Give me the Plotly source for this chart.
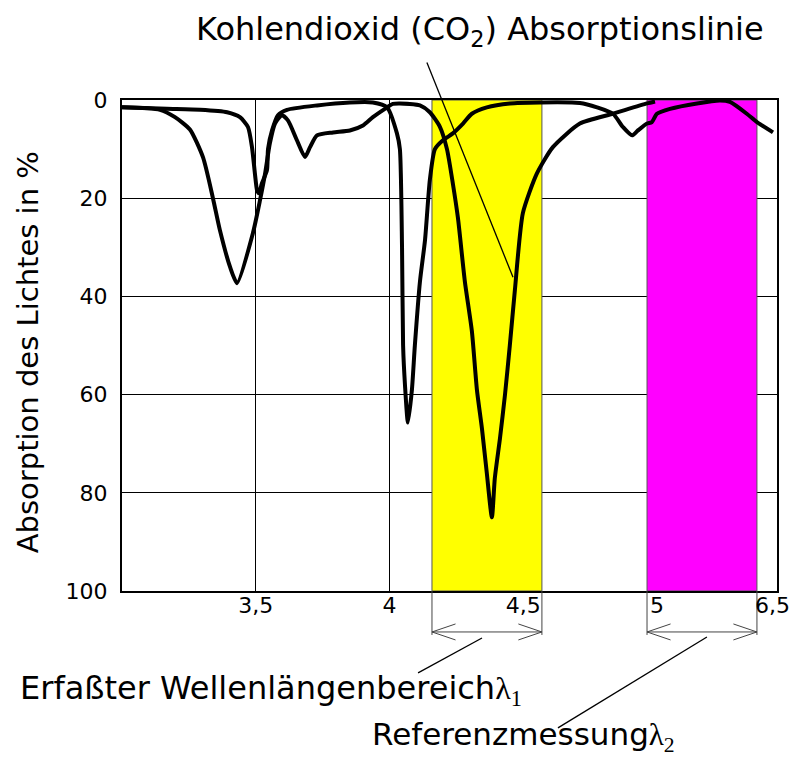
import plotly.graph_objects as go

# ---- data (wavelength in µm, absorption in %) ----
wavelength_a = [3.000, 3.142, 3.198, 3.254, 3.303, 3.340, 3.366, 3.404, 3.430, 3.490,
                3.516, 3.535, 3.553, 3.572, 3.598, 3.621, 3.654, 3.684, 3.703, 3.729,
                3.789, 3.852, 3.901, 3.938, 3.983, 4.013, 4.039, 4.114, 4.151, 4.189,
                4.215, 4.237, 4.256, 4.282, 4.308, 4.327, 4.346, 4.364, 4.383, 4.394,
                4.413, 4.432, 4.450, 4.469, 4.499, 4.551, 4.611, 4.712, 4.836, 4.963, 4.993]
absorption_a = [1.5, 2.0, 3.5, 6.0, 11.7, 20.0, 26.5, 34.0, 37.3, 27.0,
                20.4, 15.0, 8.8, 4.8, 3.1, 4.2, 8.2, 11.6, 9.6, 7.2,
                6.6, 6.2, 5.2, 3.5, 1.8, 0.8, 0.7, 1.1, 2.5, 5.5,
                10.0, 17.0, 24.0, 37.0, 47.0, 59.0, 67.0, 76.0, 85.0, 77.0,
                69.0, 60.0, 50.0, 38.7, 23.0, 15.0, 9.6, 4.8, 2.8, 0.7, 0.3]

wavelength_b = [3.000, 3.168, 3.292, 3.393, 3.441, 3.471, 3.486, 3.497, 3.505, 3.512,
                3.523, 3.542, 3.546, 3.561, 3.583, 3.617, 3.729, 3.852, 3.938, 3.991,
                4.028, 4.039, 4.047, 4.051, 4.058, 4.069, 4.084, 4.095, 4.114, 4.133,
                4.151, 4.170, 4.200, 4.237, 4.275, 4.308, 4.364, 4.450, 4.563, 4.712,
                4.776, 4.836, 4.873, 4.907, 4.929, 4.963, 4.981, 5.000, 5.049, 5.150,
                5.236, 5.273, 5.336, 5.374, 5.434]
absorption_b = [1.5, 1.8, 2.0, 2.5, 3.5, 5.5, 9.6, 15.0, 18.4, 19.0,
                17.0, 14.3, 10.0, 6.2, 3.1, 2.0, 1.1, 0.5, 0.5, 1.5,
                6.8, 10.0, 30.0, 50.0, 58.0, 65.7, 59.0, 50.0, 37.0, 28.5,
                16.3, 10.0, 8.2, 6.8, 4.8, 2.8, 1.5, 0.7, 0.5, 0.6,
                1.5, 2.8, 5.5, 7.2, 6.2, 4.8, 4.5, 2.8, 1.8, 0.7,
                0.1, 0.4, 2.8, 4.5, 6.6]

x_tick_vals = [3.5, 4.0, 4.5, 5.0, 5.449]
x_tick_text = ["3,5", "4", "4,5", "5", "6,5"]
y_tick_vals = [0, 20, 40, 60, 80, 100]
y_tick_text = ["0", "20", "40", "60", "80", "100"]

band_measure = [4.159, 4.570]     # Erfaßter Wellenlängenbereich λ1
band_reference = [4.963, 5.374]   # Referenzmessung λ2

X_RANGE = [3.0, 5.449]
Y_RANGE = [100, 0]

FONT = "DejaVu Sans"

fig = go.Figure()
for xs, ys in ((wavelength_a, absorption_a), (wavelength_b, absorption_b)):
    fig.add_trace(go.Scatter(x=xs, y=ys, mode="lines",
                             line=dict(color="black", width=4, shape="spline", smoothing=0.6),
                             hoverinfo="skip", showlegend=False))

shapes = []
for band, col in ((band_measure, "#FFFF00"), (band_reference, "#FF00FF")):
    shapes.append(dict(type="rect", xref="x", yref="y", x0=band[0], x1=band[1], y0=0, y1=100,
                       fillcolor=col, line=dict(color="#555555", width=1), layer="between"))


def ypix(py):
    # convert a page pixel row to paper coordinates (plot area rows 99.5..591)
    return (591 - py) / 491.5


def xpix(px):
    # convert a page pixel column to paper coordinates (plot area columns 122..777)
    return (px - 122) / 655


line_style = dict(color="black", width=1.3)
thin_style = dict(color="#444444", width=1)

# leader line from CO2 label to the CO2 absorption line
shapes.append(dict(type="line", xref="x", yref="paper", x0=4.140, y0=ypix(62), x1=4.462, y1=ypix(277),
                   line=line_style))

# dimension arrows beneath the bands
head_dx = 0.088
for band in (band_measure, band_reference):
    for xb in band:
        shapes.append(dict(type="line", xref="x", yref="paper", x0=xb, x1=xb, y0=0, y1=ypix(635),
                           line=thin_style))
    shapes.append(dict(type="line", xref="x", yref="paper", x0=band[0], x1=band[1],
                       y0=ypix(632), y1=ypix(632), line=thin_style))
    for tip, sgn in ((band[0], 1), (band[1], -1)):
        for dy in (-8, 8):
            shapes.append(dict(type="line", xref="x", yref="paper", x0=tip, y0=ypix(632),
                               x1=tip + sgn * head_dx, y1=ypix(632 + dy), line=thin_style))

# leader lines to the bottom labels
shapes.append(dict(type="line", xref="x", yref="paper", x0=4.346, y0=ypix(638), x1=4.107, y1=ypix(673),
                   line=line_style))
shapes.append(dict(type="line", xref="x", yref="paper", x0=5.187, y0=ypix(637), x1=4.630, y1=ypix(728),
                   line=line_style))

serif = "font-family:'Liberation Serif', 'DejaVu Serif', serif"
annotations = [
    dict(text="Kohlendioxid (CO<sub>2</sub>) Absorptionslinie", xref="paper", yref="paper",
         x=xpix(480), y=ypix(30), xanchor="center", yanchor="middle", showarrow=False,
         font=dict(family=FONT, size=32, color="black")),
    dict(text="Erfaßter Wellenlängenbereich<span style=\"" + serif + "\">λ<sub>1</sub></span>",
         xref="paper", yref="paper", x=xpix(18), y=ypix(690), xanchor="left", yanchor="middle",
         showarrow=False, font=dict(family=FONT, size=32, color="black")),
    dict(text="Referenzmessung<span style=\"" + serif + "\">λ<sub>2</sub></span>",
         xref="paper", yref="paper", x=xpix(370), y=ypix(737), xanchor="left", yanchor="middle",
         showarrow=False, font=dict(family=FONT, size=31, color="black")),
    dict(text="Absorption des Lichtes in %", xref="paper", yref="paper",
         x=xpix(28), y=ypix(352), xanchor="center", yanchor="middle", textangle=-90,
         showarrow=False, font=dict(family=FONT, size=29, color="black")),
    # last x tick label sits on the right border; drawn here so it is not hidden past the page edge
    dict(text=x_tick_text[-1], xref="x", yref="paper", x=x_tick_vals[-1], y=ypix(606),
         xanchor="center", yanchor="middle", xshift=-5, showarrow=False,
         font=dict(family=FONT, size=22, color="black")),
]

# The page body adds an 8 px border; the figure is sized so the page is exactly 800x767.
fig.update_layout(
    width=784, height=751,
    margin=dict(l=114, r=15, t=92, b=168),
    paper_bgcolor="white", plot_bgcolor="white",
    shapes=shapes, annotations=annotations,
    xaxis=dict(range=X_RANGE, tickvals=x_tick_vals[:-1], ticktext=x_tick_text[:-1],
               showgrid=True, gridcolor="black", gridwidth=1, zeroline=False,
               showline=True, linecolor="black", linewidth=2, mirror=True,
               ticks="", ticklabelstandoff=-6,
               tickfont=dict(family=FONT, size=22, color="black")),
    yaxis=dict(range=Y_RANGE, tickvals=y_tick_vals, ticktext=y_tick_text,
               showgrid=True, gridcolor="black", gridwidth=1, zeroline=False,
               showline=True, linecolor="black", linewidth=2, mirror=True,
               ticks="", ticklabelstandoff=8,
               tickfont=dict(family=FONT, size=22, color="black")),
)

fig.write_html("out.html")
